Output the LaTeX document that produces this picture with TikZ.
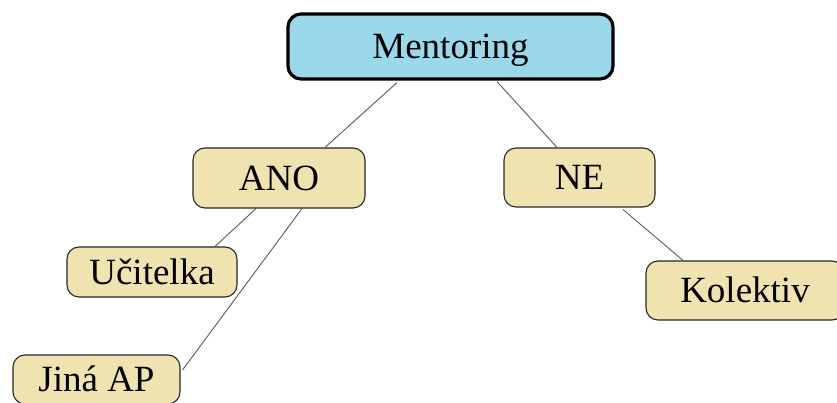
\documentclass[tikz,border=0pt]{standalone}
\usepackage{fontspec}
\setmainfont{Liberation Serif}
\usetikzlibrary{calc}
\definecolor{skyfill}{RGB}{153,217,234}
\definecolor{tanfill}{RGB}{239,228,176}
\definecolor{linkgray}{RGB}{90,90,90}
\begin{document}
\begin{tikzpicture}[x=1pt,y=1pt,
  rootbox/.style={draw=black, line width=3.2pt, fill=skyfill, rounded corners=13pt,
    inner sep=0pt, text height=24.5pt, text depth=0pt,
    font=\fontsize{37}{40}\selectfont},
  leafbox/.style={draw=black!85, line width=1.1pt, fill=tanfill, rounded corners=12pt,
    inner sep=0pt, text height=24.5pt, text depth=0pt,
    font=\fontsize{37}{40}\selectfont},
  link/.style={draw=linkgray, line width=0.9pt}]
\useasboundingbox (0,0) rectangle (837,403);
\clip (0,0) rectangle (837,403);
\fill[white] (0,0) rectangle (837,403);

% tree nodes
\node[rootbox, minimum width=325pt, minimum height=65pt] (ment) at (450.5,356.5) {Mentoring};
\node[leafbox, minimum width=172pt, minimum height=60pt] (ano) at (279,225) {ANO};
\node[leafbox, minimum width=151pt, minimum height=59pt] (ne) at (579.5,225.5) {NE};
\node[leafbox, minimum width=170pt, minimum height=50pt] (uc) at (152,131) {Učitelka};
\node[leafbox, minimum width=167pt, minimum height=49pt] (jina) at (96.5,23.5) {Jiná AP};
\node[leafbox, minimum width=198pt, minimum height=59pt] (kol) at (745,112.5) {Kolektiv};

% connectors
\draw[link] ([shift={(-53.5,-2)}]ment.south) -- ([xshift=46pt]ano.north);
\draw[link] ([shift={(46.5,-1)}]ment.south) -- ([xshift=-22.5pt]ne.north);
\draw[link] ([xshift=-23pt]ano.south) -- ([xshift=63pt]uc.north);
\draw[link] ([xshift=23pt]ano.south) -- ([shift={(2,9.5)}]jina.east);
\draw[link] ([shift={(43.5,-2)}]ne.south) -- ([xshift=-62pt]kol.north);
\end{tikzpicture}
\end{document}
